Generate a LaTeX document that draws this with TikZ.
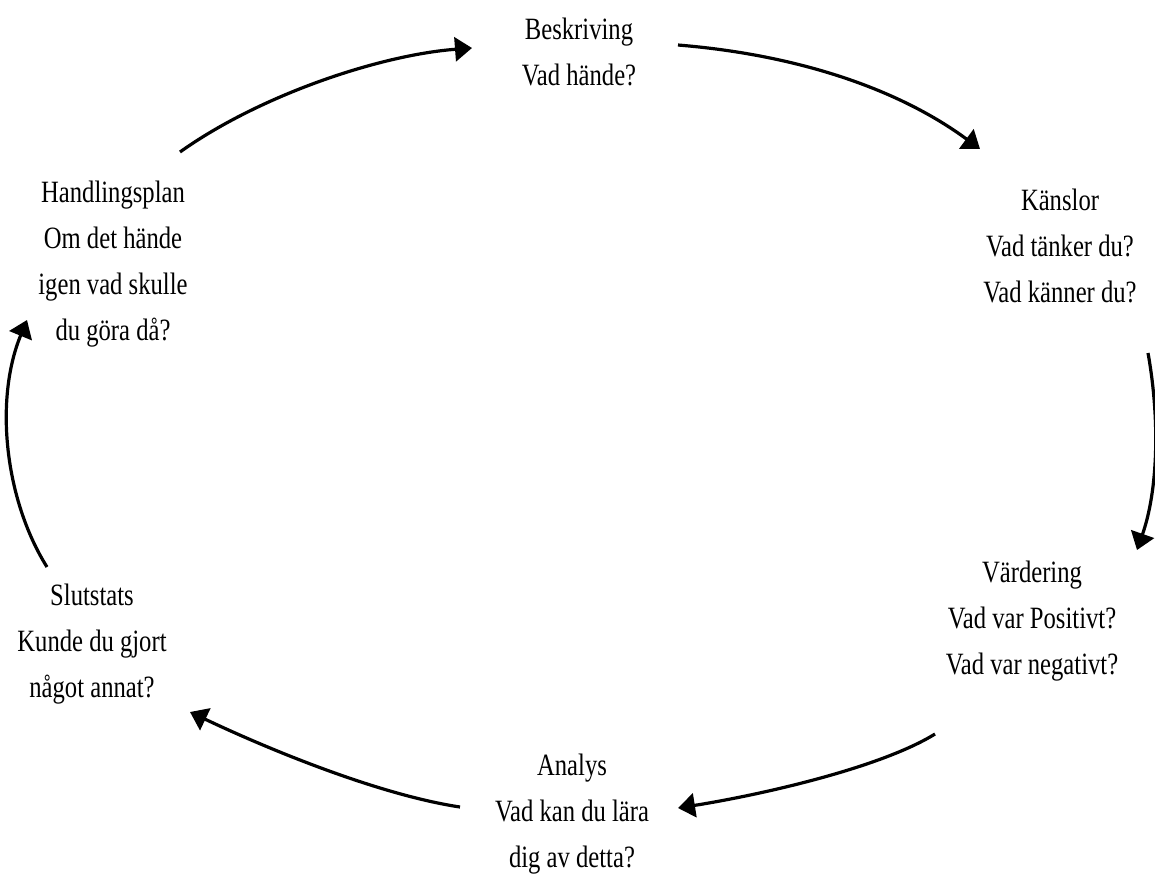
\documentclass[tikz,border=0pt]{standalone}
\usepackage{fontspec}
\setmainfont{Liberation Serif}[FakeStretch=0.795]
\usetikzlibrary{arrows.meta}
\tikzset{
  lbl/.style={align=center, inner sep=0pt, anchor=base, font=\fontsize{31}{46}\selectfont},
  cyc/.style={line width=3.2pt, -{Triangle[length=17pt,width=24pt]}}
}
\begin{document}
\begin{tikzpicture}[x=1pt,y=-1pt]
\useasboundingbox (0,0) rectangle (1155,881);
\node[lbl] (besk) at (579,85) {Beskriving\\Vad hände?};
\node[lbl] (kans) at (1060,302) {Känslor\\Vad tänker du?\\Vad känner du?};
\node[lbl] (vard) at (1032,674) {Värdering\\Vad var Positivt?\\Vad var negativt?};
\node[lbl] (anal) at (572,867) {Analys\\Vad kan du lära\\dig av detta?};
\node[lbl] (slut) at (92,697) {Slutstats\\Kunde du gjort\\något annat?};
\node[lbl] (hand) at (113,340) {Handlingsplan\\Om det hände\\igen vad skulle\\du göra då?};
\coordinate (a1s) at (180,152); \coordinate (a1e) at (472,48);
\coordinate (a2s) at (678,45);  \coordinate (a2e) at (980,149);
\coordinate (a3s) at (1148,353); \coordinate (a3e) at (1137,550);
\coordinate (a4s) at (935,734); \coordinate (a4e) at (678,808);
\coordinate (a5s) at (460,807); \coordinate (a5e) at (190,712);
\coordinate (a6s) at (47,567);  \coordinate (a6e) at (27,320);
\draw[cyc] (a1s) .. controls (260,95) and (380,55) .. (a1e);
\draw[cyc] (a2s) .. controls (800,55) and (900,90) .. (a2e);
\draw[cyc] (a3s) .. controls (1160,420) and (1158,490) .. (a3e);
\draw[cyc] (a4s) .. controls (880,768) and (760,795) .. (a4e);
\draw[cyc] (a5s) .. controls (380,795) and (270,750) .. (a5e);
\draw[cyc] (a6s) .. controls (5,500) and (-6,400) .. (a6e);
\end{tikzpicture}
\end{document}
